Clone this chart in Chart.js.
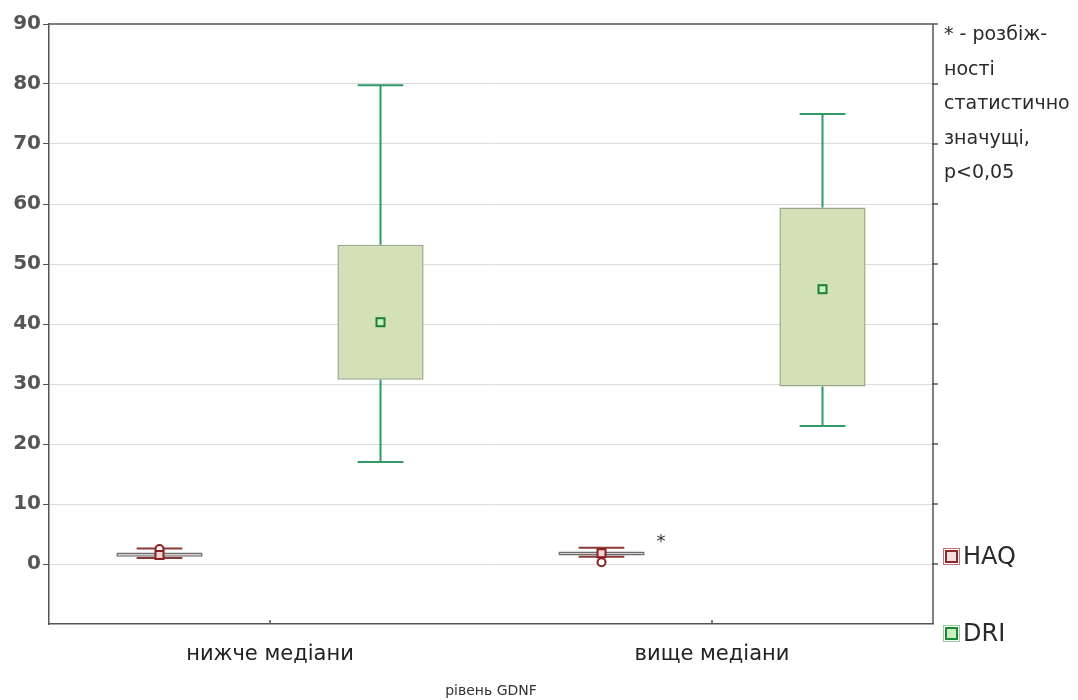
<!DOCTYPE html>
<html>
<head>
<meta charset="utf-8">
<script src="https://cdn.jsdelivr.net/npm/chart.js@4"></script>
<style>
  body { margin: 0; background: #fff; font-family: "DejaVu Sans", sans-serif; }
  #wrap { position: relative; width: 1078px; height: 700px; }
  #note { position: absolute; left: 944px; top: 16px; font-size: 19px; line-height: 34.5px; color: #2a2a2a; white-space: nowrap; }
  .leg { position: absolute; left: 945px; font-size: 24px; line-height: 28px; color: #2a2a2a; display: flex; align-items: center; }
  .leg i { display: inline-block; width: 13px; height: 13px; margin-right: 5px; box-sizing: border-box; }
</style>
</head>
<body>
<div id="wrap">
  <canvas id="chart"></canvas>
  <div id="note">* - розбіж-<br>ності<br>статистично<br>значущі,<br>p&lt;0,05</div>
  <div class="leg" style="top:542px"><i style="border:2px solid #8c2a2a;outline:1px solid #b77;outline-offset:1px;background:#f4dede"></i>HAQ</div>
  <div class="leg" style="top:619px"><i style="border:2px solid #1f8a35;outline:1px solid #9c9;outline-offset:1px;background:#c8f0c0"></i>DRI</div>
</div>
<script>
const categories = ["нижче медіани", "вище медіани"];
const seriesNames = ["HAQ", "DRI"];

// min, q1, mid, q3, max for each category
const haqMin = [1.0, 1.2];
const haqQ1 = [1.2, 1.4];
const haqMid = [1.5, 1.8];
const haqQ3 = [1.9, 2.1];
const haqMax = [2.6, 2.7];
const haqOut = [2.5, 0.3];

const driMin = [17, 23];
const driQ1 = [30.7, 29.6];
const driMid = [40.3, 45.8];
const driQ3 = [53.2, 59.4];
const driMax = [79.8, 75];

const yTicks = [0, 10, 20, 30, 40, 50, 60, 70, 80, 90];
const sigMark = { category: 1, value: 4.0, text: "*" };

const stats = [
  { min: haqMin, q1: haqQ1, mid: haqMid, q3: haqQ3, max: haqMax, out: haqOut,
    whisker: "#8a3a3a", mark: "#8c1f1f", markFill: "#f6d8d8" },
  { min: driMin, q1: driQ1, mid: driMid, q3: driQ3, max: driMax, out: null,
    whisker: "#2f9a66", mark: "#1c7f32", markFill: "#c6f2c0" }
];

const boxPlugin = {
  id: "boxes",
  afterDatasetsDraw(chart) {
    const ctx = chart.ctx;
    const y = chart.scales.y;
    const x = chart.scales.x;
    const area = chart.chartArea;
    ctx.save();
    stats.forEach((s, di) => {
      const meta = chart.getDatasetMeta(di);
      meta.data.forEach((el, i) => {
        const cx = el.x;
        const cap = el.width * 0.53;
        ctx.strokeStyle = s.whisker;
        ctx.lineWidth = 2;
        ctx.beginPath();
        ctx.moveTo(cx, y.getPixelForValue(s.q3[i]));
        ctx.lineTo(cx, y.getPixelForValue(s.max[i]));
        ctx.moveTo(cx, y.getPixelForValue(s.q1[i]));
        ctx.lineTo(cx, y.getPixelForValue(s.min[i]));
        ctx.moveTo(cx - cap / 2, y.getPixelForValue(s.max[i]));
        ctx.lineTo(cx + cap / 2, y.getPixelForValue(s.max[i]));
        ctx.moveTo(cx - cap / 2, y.getPixelForValue(s.min[i]));
        ctx.lineTo(cx + cap / 2, y.getPixelForValue(s.min[i]));
        ctx.stroke();
        // outlier
        if (s.out) {
          ctx.strokeStyle = s.mark;
          ctx.fillStyle = "#fff";
          ctx.lineWidth = 2;
          ctx.beginPath();
          ctx.arc(cx, y.getPixelForValue(s.out[i]), 4, 0, Math.PI * 2);
          ctx.fill();
          ctx.stroke();
        }
        // mid marker
        const my = y.getPixelForValue(s.mid[i]);
        ctx.fillStyle = s.markFill;
        ctx.strokeStyle = s.mark;
        ctx.lineWidth = 2;
        ctx.fillRect(cx - 4, my - 4, 8, 8);
        ctx.strokeRect(cx - 4, my - 4, 8, 8);
      });
    });
    // significance mark
    const sx = x.getPixelForValue(sigMark.category);
    ctx.fillStyle = "#333";
    ctx.font = "18px 'DejaVu Sans', sans-serif";
    ctx.textAlign = "center";
    ctx.textBaseline = "middle";
    ctx.fillText(sigMark.text, sx - 51, y.getPixelForValue(sigMark.value) + 2);

    // frame: top and right, right ticks, bottom category ticks
    ctx.strokeStyle = "#555";
    ctx.lineWidth = 1.5;
    ctx.beginPath();
    ctx.moveTo(area.left, area.top);
    ctx.lineTo(area.right, area.top);
    ctx.lineTo(area.right, area.bottom);
    yTicks.forEach(v => {
      const py = y.getPixelForValue(v);
      ctx.moveTo(area.right - 1, py);
      ctx.lineTo(area.right + 5, py);
    });
    categories.forEach((c, i) => {
      const px = x.getPixelForValue(i);
      ctx.moveTo(px, area.bottom);
      ctx.lineTo(px, area.bottom - 4);
    });
    ctx.stroke();
    ctx.restore();
  }
};

new Chart(document.getElementById("chart"), {
  type: "bar",
  data: {
    labels: categories,
    datasets: [
      {
        label: seriesNames[0],
        data: haqQ1.map((v, i) => [v, haqQ3[i]]),
        backgroundColor: "#d9cccc",
        borderColor: "#6e6e6e",
        borderWidth: 1.5,
        borderSkipped: false
      },
      {
        label: seriesNames[1],
        data: driQ1.map((v, i) => [v, driQ3[i]]),
        backgroundColor: "#d3e1b6",
        borderColor: "#9aa58c",
        borderWidth: 1.5,
        borderSkipped: false
      }
    ]
  },
  options: {
    responsive: true,
    maintainAspectRatio: false,
    animation: false,
    layout: { padding: { top: 24, right: 145, left: 0, bottom: 0 } },
    plugins: {
      legend: { display: false },
      tooltip: { enabled: false }
    },
    datasets: {
      bar: { categoryPercentage: 1.0, barPercentage: 0.39 }
    },
    scales: {
      x: {
        grid: { display: false, drawTicks: false },
        border: { display: true, color: "#555", width: 1.5 },
        ticks: {
          padding: 18,
          color: "#222",
          font: { size: 21, family: "'DejaVu Sans', sans-serif" }
        },
        title: {
          display: true,
          text: "рівень GDNF",
          color: "#333",
          padding: { top: 8, bottom: 0 },
          font: { size: 14, family: "'DejaVu Sans', sans-serif" }
        },
        afterFit(scale) { scale.height = 76; }
      },
      y: {
        min: -10,
        max: 90,
        grid: {
          color: ctx => (ctx.tick && (ctx.tick.value === -10 || ctx.tick.value === 90)) ? "rgba(0,0,0,0)" : "#dcdcdc",
          tickColor: ctx => (ctx.tick && ctx.tick.value === -10) ? "rgba(0,0,0,0)" : "#555",
          tickLength: 6,
          lineWidth: 1
        },
        border: { display: true, color: "#555", width: 1.5 },
        ticks: {
          stepSize: 10,
          padding: 2,
          color: "#555",
          font: { size: 20, weight: "bold", family: "'DejaVu Sans', sans-serif" },
          callback: v => (yTicks.includes(v) ? v : "")
        },
        afterFit(scale) { scale.width = 49; }
      }
    }
  },
  plugins: [boxPlugin]
});
</script>
</body>
</html>
